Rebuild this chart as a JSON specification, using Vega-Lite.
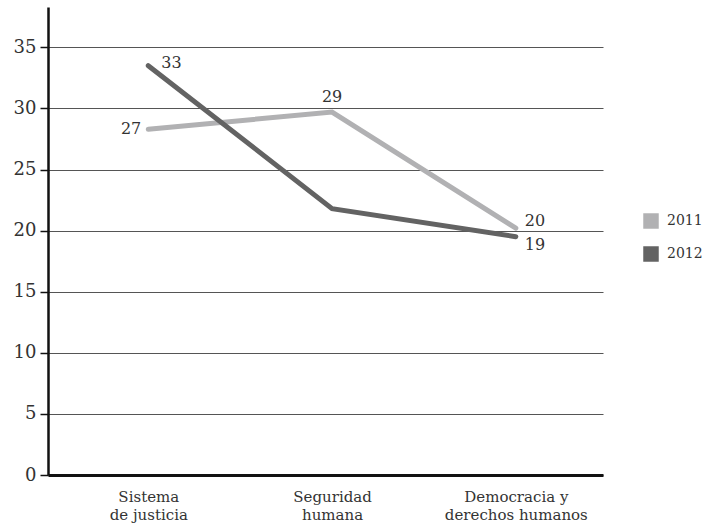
{
  "$schema": "https://vega.github.io/schema/vega-lite/v6.json",
  "width": 555,
  "height": 468,
  "autosize": {"type": "none"},
  "padding": {"left": 48, "top": 7, "right": 103, "bottom": 56},
  "background": "white",
  "config": {
    "font": "DejaVu Serif",
    "axis": {"labelFont": "DejaVu Serif"},
    "legend": {"labelFont": "DejaVu Serif"},
    "text": {"font": "DejaVu Serif"},
    "view": {"stroke": null}
  },
  "data": {
    "values": [
      {"tema": "Sistema de justicia", "anio": "2011", "valor": 28.3, "etiqueta": "27"},
      {"tema": "Seguridad humana", "anio": "2011", "valor": 29.7, "etiqueta": "29"},
      {"tema": "Democracia y derechos humanos", "anio": "2011", "valor": 20.2, "etiqueta": "20"},
      {"tema": "Sistema de justicia", "anio": "2012", "valor": 33.5, "etiqueta": "33"},
      {"tema": "Seguridad humana", "anio": "2012", "valor": 21.8, "etiqueta": ""},
      {"tema": "Democracia y derechos humanos", "anio": "2012", "valor": 19.5, "etiqueta": "19"}
    ]
  },
  "encoding": {
    "x": {
      "field": "tema",
      "type": "nominal",
      "sort": null,
      "scale": {"type": "point", "padding": 0.51, "align": 0.535},
      "axis": {
        "title": null,
        "labelAngle": 0,
        "domainColor": "#111111",
        "domainWidth": 3,
        "ticks": false,
        "tickSize": 0,
        "grid": false,
        "labelFontSize": 15,
        "labelColor": "#333333",
        "labelPadding": 14,
        "labelLineHeight": 18,
        "labelExpr": "datum.value == 'Sistema de justicia' ? ['Sistema', 'de justicia'] : datum.value == 'Seguridad humana' ? ['Seguridad', 'humana'] : ['Democracia y', 'derechos humanos']"
      }
    },
    "y": {
      "field": "valor",
      "type": "quantitative",
      "scale": {"domain": [0, 38.3], "nice": false, "zero": false},
      "axis": {
        "title": null,
        "values": [0, 5, 10, 15, 20, 25, 30, 35],
        "grid": true,
        "gridColor": "#555555",
        "gridWidth": 1,
        "domainColor": "#111111",
        "domainWidth": 2.5,
        "tickColor": "#111111",
        "tickSize": 8,
        "tickWidth": 1.5,
        "labelFontSize": 18,
        "labelPadding": 4,
        "labelColor": "#333333"
      }
    }
  },
  "layer": [
    {
      "mark": {"type": "line", "strokeWidth": 5, "strokeCap": "round", "strokeJoin": "miter"},
      "encoding": {
        "color": {
          "field": "anio",
          "type": "nominal",
          "scale": {"domain": ["2011", "2012"], "range": ["#b1b1b3", "#636363"]},
          "legend": {
            "title": null,
            "orient": "none",
            "legendX": 595,
            "legendY": 206,
            "symbolType": "square",
            "symbolSize": 240,
            "symbolStrokeWidth": 0,
            "labelFontSize": 14,
            "labelColor": "#333333",
            "labelOffset": 8,
            "rowPadding": 17,
            "encode": {
              "symbols": {
                "update": {
                  "fill": {"scale": "color", "field": "value"},
                  "stroke": {"value": "transparent"}
                }
              }
            }
          }
        }
      }
    },
    {
      "transform": [{"filter": "datum.etiqueta == '27'"}],
      "mark": {"type": "text", "align": "right", "baseline": "middle", "dx": -7, "fontSize": 16, "color": "#333333"},
      "encoding": {"text": {"field": "etiqueta"}}
    },
    {
      "transform": [{"filter": "datum.etiqueta == '33'"}],
      "mark": {"type": "text", "align": "left", "baseline": "middle", "dx": 13, "dy": -3, "fontSize": 16, "color": "#333333"},
      "encoding": {"text": {"field": "etiqueta"}}
    },
    {
      "transform": [{"filter": "datum.etiqueta == '29'"}],
      "mark": {"type": "text", "align": "center", "baseline": "middle", "dy": -15, "fontSize": 16, "color": "#333333"},
      "encoding": {"text": {"field": "etiqueta"}}
    },
    {
      "transform": [{"filter": "datum.etiqueta == '20'"}],
      "mark": {"type": "text", "align": "left", "baseline": "middle", "dx": 9, "dy": -7, "fontSize": 16, "color": "#333333"},
      "encoding": {"text": {"field": "etiqueta"}}
    },
    {
      "transform": [{"filter": "datum.etiqueta == '19'"}],
      "mark": {"type": "text", "align": "left", "baseline": "middle", "dx": 9, "dy": 8, "fontSize": 16, "color": "#333333"},
      "encoding": {"text": {"field": "etiqueta"}}
    }
  ]
}
